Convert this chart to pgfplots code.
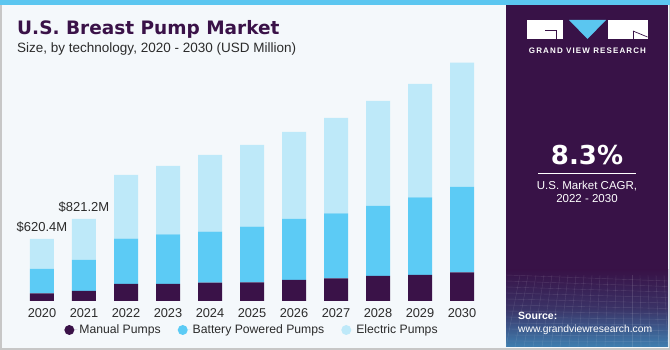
\documentclass[border=0pt]{standalone}
\usepackage{fontspec}
\setmainfont{Liberation Sans}
\newfontfamily\heavy{DejaVu Sans}[BoldFont={DejaVu Sans Bold}]
\usepackage{pgfplots}
\pgfplotsset{compat=1.18}
\definecolor{manual}{HTML}{3A1248}
\definecolor{battery}{HTML}{5CCBF5}
\definecolor{electric}{HTML}{BEE9F9}
\definecolor{panel}{HTML}{381247}
\definecolor{bg}{HTML}{F4F8FB}
\definecolor{stripe}{HTML}{5BC6F0}
\definecolor{txt}{HTML}{2B2B2B}
\definecolor{gridblue}{HTML}{3F7FB0}
\begin{document}
\begin{tikzpicture}[x=1pt,y=1pt]
\fill[bg] (0,0) rectangle (670,350);
\draw[black!22, line width=1.5pt] (0.75,0.75) rectangle (669.25,349.25);
\fill[stripe] (0,345) rectangle (670,350);
\fill[panel] (506,3) rectangle (668,345);
\shade[top color=panel, bottom color=gridblue, middle color=panel!70!gridblue] (506,3) rectangle (668,80);
\begin{scope}
\clip (506,3) rectangle (668,75);
\foreach \i in {0,...,20} {\draw[white, opacity=0.12, line width=0.4pt] (506+\i*9,3) -- (520+\i*8,75);}
\foreach \j in {0,...,12} {\draw[white, opacity=0.12, line width=0.4pt] (506,3+\j*6) -- (668,3+\j*5.5);}
\end{scope}
% logo
\fill[white] (527,311) rectangle (563,330);
\draw[panel, line width=0.7pt] (545,320) -- (556,320) -- (556,311);
\fill[stripe] (569,330) -- (606,330) -- (587.5,311) -- cycle;
\fill[white] (608,311) rectangle (647.5,330);
\draw[panel, line width=0.7pt] (633,319) -- (647.5,313);
\draw[panel, line width=0.7pt] (633,319) -- (633,311);
\node[anchor=center, inner sep=0, text=white, font=\bfseries\fontsize{8}{8}\selectfont\addfontfeature{LetterSpace=14}] at (587.5,299) {GRAND VIEW RESEARCH};
% CAGR
\node[anchor=base, inner sep=0, text=white, font=\heavy\bfseries\fontsize{26}{26}\selectfont] at (587,185) {8.3\%};
\draw[white, line width=0.9pt] (538,177) -- (636,177);
\node[anchor=base, inner sep=0, text=white, font=\fontsize{11.5}{11.5}\selectfont] at (587,160) {U.S. Market CAGR,};
\node[anchor=base, inner sep=0, text=white, font=\fontsize{11.5}{11.5}\selectfont] at (587,147) {2022 - 2030};
\node[anchor=base west, inner sep=0, text=white, font=\bfseries\fontsize{10.5}{10.5}\selectfont] at (518,30) {Source:};
\node[anchor=base west, inner sep=0, text=white, font=\fontsize{10.3}{10.3}\selectfont] at (518,17) {www.grandviewresearch.com};
% titles
\node[anchor=base west, inner sep=0, text=manual, font=\heavy\bfseries\fontsize{18.5}{18.5}\selectfont] at (17,315) {U.S. Breast Pump Market};
\node[anchor=base west, inner sep=0, text=txt, font=\fontsize{13.5}{13.5}\selectfont] at (17,297) {Size, by technology, 2020 - 2030 (USD Million)};
\begin{axis}[
  at={(21pt,49pt)}, anchor=south west, scale only axis,
  width=462pt, height=250pt,
  xmin=-0.5, xmax=10.5, ymin=0, ymax=2500,
  axis line style={draw=none}, major tick length=0pt,
  ytick=\empty,
  xtick={0,...,10},
  xticklabels={2020,2021,2022,2023,2024,2025,2026,2027,2028,2029,2030},
  xticklabel style={anchor=north, inner sep=0pt, yshift=-7.5pt, font=\fontsize{12.8}{12.8}\selectfont, text=txt},
  ybar stacked, bar width=24pt,
  clip=false,
  legend columns=3,
  legend style={at={(0.5,-0.116)}, anchor=center, draw=none, fill=none,
    font=\fontsize{12.2}{12.2}\selectfont, text=txt,
    /tikz/every even column/.append style={column sep=15pt}},
]
\addplot[fill=manual, draw=none, legend image code/.code={\path (0pt,0pt) -- (13pt,0pt); \fill[manual] (5pt,0pt) circle (5pt);}] coordinates {
(0,77) (1,100) (2,170) (3,170) (4,183) (5,187) (6,210) (7,227) (8,250) (9,260) (10,287)};
\addplot[fill=battery, draw=none, legend image code/.code={\path (0pt,0pt) -- (13pt,0pt); \fill[battery] (5pt,0pt) circle (5pt);}] coordinates {
(0,243) (1,310) (2,453) (3,497) (4,510) (5,556) (6,610) (7,650) (8,700) (9,777) (10,853)};
\addplot[fill=electric, draw=none, legend image code/.code={\path (0pt,0pt) -- (13pt,0pt); \fill[electric] (5pt,0pt) circle (5pt);}] coordinates {
(0,300.4) (1,411.2) (2,637) (3,683) (4,767) (5,817) (6,870) (7,953) (8,1050) (9,1133) (10,1243)};
\legend{Manual Pumps, Battery Powered Pumps, Electric Pumps}
\node[anchor=south, inner sep=0, yshift=6pt, font=\fontsize{13}{13}\selectfont, text=txt] at (axis cs:0,620.4) {\$620.4M};
\node[anchor=south, inner sep=0, yshift=6pt, font=\fontsize{13}{13}\selectfont, text=txt] at (axis cs:1,821.2) {\$821.2M};
\end{axis}
\end{tikzpicture}
\end{document}
